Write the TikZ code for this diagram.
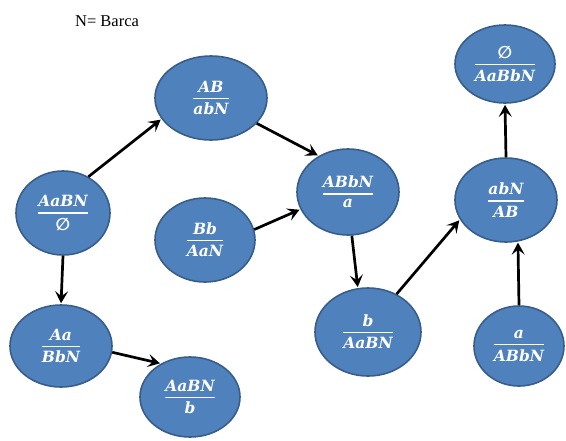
\documentclass[tikz,border=0pt]{standalone}
\usepackage{fontspec}
\setmainfont{Liberation Serif}
\newfontfamily\fr{DejaVu Serif}
\newfontfamily\symf{DejaVu Sans}
\usetikzlibrary{shapes.geometric,arrows.meta}
\definecolor{fillblue}{HTML}{4F81BD}
\definecolor{edgeblue}{HTML}{385D8A}
\newcommand\fracx[2]{$\displaystyle{\mbox{#1}\above 1.4pt\mbox{#2}}$}
\newcommand\emptyx{{\symf\bfseries\fontsize{17}{19}\selectfont ∅}}
\tikzset{
  st/.style={ellipse, draw=edgeblue, line width=1.6pt, fill=fillblue, text=white,
    inner sep=0pt, font=\fr\bfseries\itshape\fontsize{15.5}{18}\selectfont},
  arr/.style={line width=2.7pt, black, -{Stealth[length=12pt,width=13pt,inset=5pt]}, shorten >=1pt}
}
\begin{document}
\begin{tikzpicture}[x=1pt,y=-1pt]
\useasboundingbox (0,0) rectangle (566,440);
\node[font=\fontsize{16.5}{18}\selectfont] (title) at (107,21) {N= Barca};
\node[st, minimum width=94pt, minimum height=84pt] (n1) at (63,213) {\fracx{AaBN}{\emptyx}};
\node[st, minimum width=112pt, minimum height=84pt] (n2) at (211,98) {\fracx{AB}{abN}};
\node[st, minimum width=100pt, minimum height=84pt] (n3) at (205,240) {\fracx{Bb}{AaN}};
\node[st, minimum width=102pt, minimum height=86pt] (n4) at (348,192) {\fracx{ABbN}{a}};
\node[st, minimum width=106pt, minimum height=88pt] (n5) at (368,332) {\fracx{b}{AaBN}};
\node[st, minimum width=102pt, minimum height=82pt] (n6) at (61,346) {\fracx{Aa}{BbN}};
\node[st, minimum width=100pt, minimum height=80pt] (n7) at (190,397) {\fracx{AaBN}{b}};
\node[st, minimum width=102pt, minimum height=84pt] (n8) at (506,200) {\fracx{abN}{AB}};
\node[st, minimum width=100pt, minimum height=78pt] (n9) at (505,64) {\fracx{\emptyx}{AaBbN}};
\node[st, minimum width=90pt, minimum height=80pt] (n10) at (519,346) {\fracx{a}{ABbN}};
\draw[arr] (n1.55) -- (n2.203);
\draw[arr] (n2.331) -- (n4.129);
\draw[arr] (n3.12) -- (n4.200);
\draw[arr] (n4.275) -- (n5.103);
\draw[arr] (n5.53) -- (n8.203);
\draw[arr] (n8.north) -- (n9.south);
\draw[arr] (n10.north) -- (n8.286);
\draw[arr] (n1.south) -- (n6.north);
\draw[arr] (n6.353) -- (n7.131);
\end{tikzpicture}
\end{document}
